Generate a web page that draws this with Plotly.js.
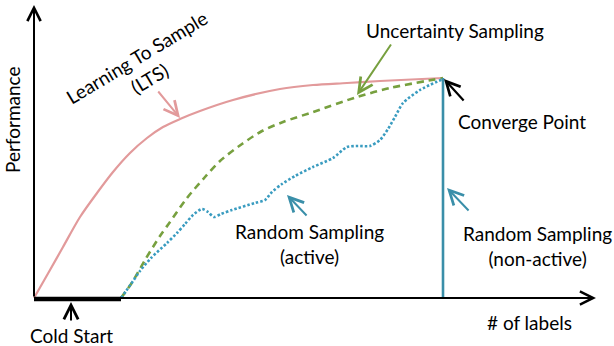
<!DOCTYPE html>
<html>
<head>
<meta charset="utf-8">
<script src="https://cdn.plot.ly/plotly-3.0.1.min.js"></script>
<style>html,body{margin:0;padding:0;background:#fff;}#chart{width:614px;height:346px;}</style>
</head>
<body>
<div id="chart"></div>
<script>
// Units: x = # of labels, y = performance (arbitrary units)
const ltsX = [0, 16, 29, 46, 63, 79, 96, 113, 129, 146, 166, 199, 246, 279, 313, 346, 409];
const ltsY = [0, 28, 51, 81, 105, 126, 145, 160, 171, 179, 187, 198, 209, 213, 215, 217, 220];

const uncX = [87, 99, 111, 126, 136, 153, 171, 186, 208, 228, 249, 279, 323, 356, 409];
const uncY = [0, 17, 38, 62, 76, 100, 121, 137, 154, 167, 176, 186, 201, 210, 220];

const rndX = [87, 97, 106, 117, 133, 143, 151, 159, 168, 174, 180, 187, 198, 221, 231, 238, 248, 261, 279, 299, 313, 324, 336, 346, 354, 361, 369, 386, 409];
const rndY = [0, 14, 27, 40, 55, 65, 74, 83, 89, 86, 81, 84, 88, 95, 98, 106, 114, 122, 131, 140, 151, 152, 152, 158, 169, 181, 195, 208, 219];

const nonActiveX = [409, 409];
const nonActiveY = [0, 220];

const coldStartX = [0, 87];
const coldStartY = [-1, -1];

const xMax = 562, yMax = 293;

const labels = {
  lts: "Learning To Sample<br>(LTS)",
  unc: "Uncertainty Sampling",
  conv: "Converge Point",
  rndA: "Random Sampling<br>(active)",
  rndN: "Random Sampling<br>(non-active)",
  xlab: "# of labels",
  cold: "Cold Start",
  ylab: "Performance"
};

const pink = "#e29a9b", green = "#77a03f", blueDot = "#3a9cc0", teal = "#3a8fa9";
const font = {family: "Lato, 'Open Sans', sans-serif", size: 19, color: "#000"};

const traces = [
  {x: ltsX, y: ltsY, mode: "lines", line: {color: pink, width: 2.2, shape: "spline", smoothing: 0.8}},
  {x: uncX, y: uncY, mode: "lines", line: {color: green, width: 2.6, dash: "7px,5px", shape: "spline", smoothing: 0.8}},
  {x: rndX, y: rndY, mode: "lines", line: {color: blueDot, width: 2.6, dash: "2.5px,2px", shape: "spline", smoothing: 0.7}},
  {x: nonActiveX, y: nonActiveY, mode: "lines", line: {color: teal, width: 2.6}},
  {x: coldStartX, y: coldStartY, mode: "lines", line: {color: "#000", width: 4.5}}
];

function arrow(x, y, ax, ay, color, w, s) {
  return {x: x, y: y, ax: ax, ay: ay, xref: "x", yref: "y", axref: "x", ayref: "y",
    showarrow: true, arrowhead: 5, arrowsize: s || 1.4, arrowwidth: w || 2, arrowcolor: color, standoff: 0, text: ""};
}
function label(x, y, t, angle) {
  return {x: x, y: y, xref: "x", yref: "y", text: t, showarrow: false, font: font,
    textangle: angle || 0, xanchor: "center", yanchor: "middle", align: "center"};
}

const annotations = [
  // axes
  arrow(xMax, 0, 0, 0, "#000", 2, 1.3),
  arrow(0, yMax, 0, 0, "#000", 2, 1.3),
  // pointers
  arrow(146, 180, 123, 208, pink, 2),
  arrow(323, 203, 358, 255, green, 2),
  arrow(410, 219, 431, 196, "#000", 2.2, 1.25),
  arrow(253, 103, 274, 81, teal, 2),
  arrow(413, 110, 436, 86, teal, 2),
  arrow(37, -4, 37, -24, "#000", 2),
  // labels
  label(109, 230, labels.lts, -31),
  label(421, 268, labels.unc),
  label(488, 177, labels.conv),
  label(275, 54, labels.rndA),
  label(503, 52, labels.rndN),
  label(495, -24, labels.xlab),
  label(37, -37, labels.cold),
  label(-22, 178, labels.ylab, -90)
];

const layout = {
  width: 614, height: 346,
  margin: {l: 0, r: 0, t: 0, b: 0},
  paper_bgcolor: "#fff", plot_bgcolor: "#fff",
  showlegend: false,
  xaxis: {range: [-34, 580], visible: false, fixedrange: true},
  yaxis: {range: [-48, 298], visible: false, fixedrange: true},
  annotations: annotations
};

Plotly.newPlot("chart", traces, layout, {displayModeBar: false, staticPlot: true});
</script>
</body>
</html>
